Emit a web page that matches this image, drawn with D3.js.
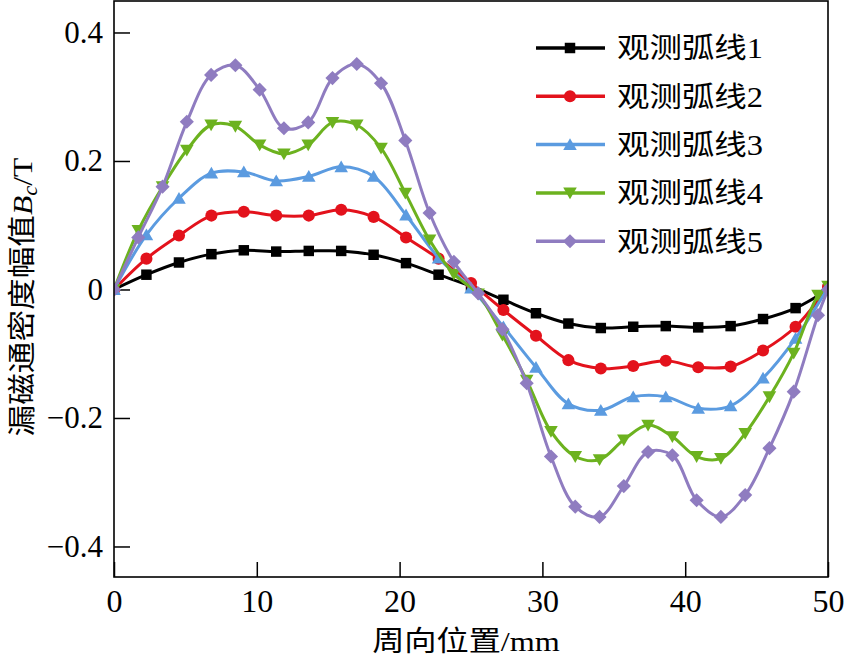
<!DOCTYPE html>
<html><head><meta charset="utf-8">
<script src="https://cdn.jsdelivr.net/npm/d3@7"></script>
<style>
html,body{margin:0;padding:0;background:#fff;}
svg{display:block;}
</style></head>
<body><svg id="c" width="846" height="659"></svg>
<script>
// ---- data ----
const xA = [0, 2.27, 4.55, 6.82, 9.09, 11.36, 13.64, 15.91, 18.18, 20.45, 22.73, 25, 27.27, 29.55, 31.82, 34.09, 36.36, 38.64, 40.91, 43.18, 45.45, 47.73, 50];
const xB = [0, 1.7, 3.4, 5.1, 6.8, 8.5, 10.2, 11.9, 13.6, 15.3, 17.0, 18.7, 20.4, 22.1, 23.8, 25.5, 27.2, 28.9, 30.6, 32.3, 34.0, 35.7, 37.4, 39.1, 40.8, 42.5, 44.2, 45.9, 47.6, 49.3, 50];
const arc1 = [0, 0.023, 0.042, 0.055, 0.061, 0.059, 0.060, 0.060, 0.054, 0.041, 0.023, 0.005, -0.016, -0.037, -0.053, -0.060, -0.058, -0.057, -0.059, -0.057, -0.046, -0.029, 0];
const arc2 = [0, 0.048, 0.084, 0.115, 0.121, 0.115, 0.115, 0.124, 0.113, 0.081, 0.048, 0.010, -0.032, -0.072, -0.110, -0.123, -0.119, -0.111, -0.121, -0.120, -0.095, -0.058, 0.004];
const arc3 = [0, 0.085, 0.142, 0.181, 0.183, 0.169, 0.176, 0.191, 0.176, 0.116, 0.049, 0.002, -0.058, -0.121, -0.178, -0.188, -0.167, -0.167, -0.185, -0.181, -0.138, -0.076, 0.003];
const arc4 = [0, 0.092, 0.160, 0.217, 0.256, 0.254, 0.225, 0.211, 0.225, 0.260, 0.256, 0.220, 0.150, 0.077, 0.024, -0.007, -0.071, -0.141, -0.221, -0.260, -0.265, -0.234, -0.211, -0.229, -0.260, -0.263, -0.224, -0.167, -0.099, -0.009, 0.005];
const arc5 = [0, 0.081, 0.160, 0.261, 0.334, 0.349, 0.311, 0.251, 0.260, 0.329, 0.351, 0.321, 0.232, 0.119, 0.043, -0.006, -0.062, -0.146, -0.260, -0.338, -0.354, -0.306, -0.253, -0.258, -0.328, -0.354, -0.320, -0.247, -0.159, -0.040, 0];
const names = ["观测弧线1", "观测弧线2", "观测弧线3", "观测弧线4", "观测弧线5"];
const xTicks = [0, 10, 20, 30, 40, 50];
const yTicks = [0.4, 0.2, 0, -0.2, -0.4];

const colors = ["#000000", "#e3121c", "#5b9be0", "#6cb21f", "#8f7cc0"];
const series = [
  {x: xA, y: arc1}, {x: xA, y: arc2}, {x: xA, y: arc3}, {x: xB, y: arc4}, {x: xB, y: arc5}
];

// ---- layout ----
const L = 114, R = 828, T = 1, B = 577;
const svg = d3.select("#c");
const x = d3.scaleLinear().domain([0, 50]).range([L, R]);
const y = d3.scaleLinear().domain([-0.4475, 0.449]).range([B, T]);
const serif = "'Liberation Serif','Times New Roman','Noto Sans CJK SC',serif";
const cjk = "'Liberation Serif','Noto Sans CJK SC',serif";

svg.append("defs").append("clipPath").attr("id", "clip")
  .append("rect").attr("x", L).attr("y", T).attr("width", R - L).attr("height", B - T);

// symbols
function sym(i) {
  const types = [d3.symbolSquare, d3.symbolCircle, d3.symbolTriangle, d3.symbolTriangle, d3.symbolSquare];
  const sizes = [110, 115, 80, 80, 100];
  return d3.symbol().type(types[i]).size(sizes[i])();
}
const rot = [0, 0, 0, 180, 45];
const dy = [0, 0, 1.5, -1.5, 0];

// axes
const yAxis = d3.axisLeft(y).tickValues(yTicks).tickSize(-16).tickPadding(11)
  .tickFormat(d => d === 0 ? "0" : d3.format(".1f")(d).replace("-", "\u2212"));
const gy = svg.append("g").attr("transform", `translate(${L},0)`).call(yAxis);
gy.select(".domain").remove();
gy.selectAll("line").attr("stroke", "#000").attr("stroke-width", 1.5);
gy.selectAll("text").attr("font-family", serif).attr("font-size", 31).attr("fill", "#000");

const xAxis = d3.axisBottom(x).tickValues(xTicks).tickSize(-15).tickPadding(12).tickFormat(d3.format("d"));
const gx = svg.append("g").attr("transform", `translate(0,${B})`).call(xAxis);
gx.select(".domain").remove();
gx.selectAll("line").attr("stroke", "#000").attr("stroke-width", 1.5);
gx.selectAll("text").attr("font-family", serif).attr("font-size", 32).attr("fill", "#000");

// lines
const plot = svg.append("g").attr("clip-path", "url(#clip)");
series.forEach((s, i) => {
  const pts = s.x.map((v, j) => [v, s.y[j]]);
  const line = d3.line().x(d => x(d[0])).y(d => y(d[1])).curve(d3.curveCatmullRom.alpha(0.5));
  plot.append("path").attr("d", line(pts)).attr("fill", "none")
    .attr("stroke", colors[i]).attr("stroke-width", 3).attr("stroke-linejoin", "round");
  plot.selectAll(null).data(pts).enter().append("path")
    .attr("d", sym(i))
    .attr("transform", d => `translate(${x(d[0])},${y(d[1]) + dy[i]}) rotate(${rot[i]})`)
    .attr("fill", colors[i]);
});

// frame
svg.append("rect").attr("x", L).attr("y", T).attr("width", R - L).attr("height", B - T)
  .attr("fill", "none").attr("stroke", "#000").attr("stroke-width", 1.6);

// legend
const lg = svg.append("g");
names.forEach((n, i) => {
  const yy = 48 + i * 48.3;
  lg.append("line").attr("x1", 536).attr("x2", 605).attr("y1", yy).attr("y2", yy)
    .attr("stroke", colors[i]).attr("stroke-width", 3.5);
  lg.append("path").attr("d", sym(i))
    .attr("transform", `translate(570,${yy + dy[i]}) rotate(${rot[i]})`).attr("fill", colors[i]);
  lg.append("text").attr("transform", `translate(617,${yy}) scale(1.12,1)`)
    .attr("dy", "0.36em").attr("font-family", cjk).attr("font-size", 29).attr("fill", "#000").text(n);
});

// axis titles
svg.append("text").attr("transform", `translate(466,651) scale(1.15,1)`)
  .attr("text-anchor", "middle").attr("font-family", cjk).attr("font-size", 28).attr("fill", "#000")
  .text("周向位置/mm");

const yl = svg.append("text").attr("transform", `translate(22,297) rotate(-90) scale(1.13,1)`)
  .attr("text-anchor", "middle").attr("dy", "0.36em").attr("font-family", cjk).attr("font-size", 28).attr("fill", "#000");
yl.append("tspan").text("漏磁通密度幅值");
yl.append("tspan").attr("font-style", "italic").attr("font-family", serif).text("B");
yl.append("tspan").attr("font-style", "italic").attr("font-family", serif).attr("font-size", 20).attr("dy", "0.25em").text("c");
yl.append("tspan").attr("font-family", serif).attr("dy", "-0.18em").text("/T");
</script>
</body></html>
